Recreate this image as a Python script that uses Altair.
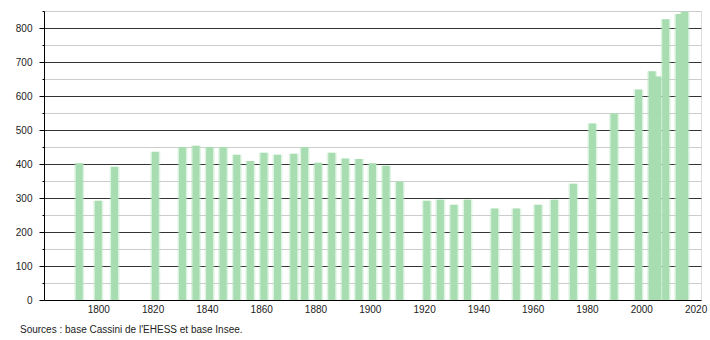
import altair as alt
import pandas as pd

years = [1793, 1800, 1806, 1821, 1831, 1836, 1841, 1846, 1851, 1856, 1861, 1866,
         1872, 1876, 1881, 1886, 1891, 1896, 1901, 1906, 1911, 1921, 1926, 1931,
         1936, 1946, 1954, 1962, 1968, 1975, 1982, 1990, 1999, 2004, 2006, 2009,
         2014, 2016]
population = [402, 292, 392, 436, 450, 454, 450, 450, 427, 409, 433, 427,
              430, 450, 404, 433, 416, 415, 402, 395, 349, 292, 295, 280,
              295, 269, 269, 280, 295, 342, 519, 549, 619, 673, 657, 826,
              841, 848]
x_ticks = [1800, 1820, 1840, 1860, 1880, 1900, 1920, 1940, 1960, 1980, 2000, 2020]
y_ticks = [0, 50, 100, 150, 200, 250, 300, 350, 400, 450, 500, 550, 600, 650,
           700, 750, 800, 850]
source_text = ["Sources : base Cassini de l'EHESS et base Insee."]

df = pd.DataFrame({"year": years, "pop": population})
src = pd.DataFrame({"t": source_text})

FONT = "Liberation Sans"

x_enc = alt.X("year:Q",
              scale=alt.Scale(domain=[1780, 2022], nice=False, zero=False, padding=0),
              axis=alt.Axis(values=x_ticks, format="d", title=None, ticks=False,
                            grid=False, domainColor="#000000", domainWidth=1,
                            labelFont=FONT, labelFontSize=10, labelColor="#222222",
                            labelPadding=4, labelOverlap=False))
y_enc = alt.Y("pop:Q",
              scale=alt.Scale(domain=[0, 850], nice=False, padding=0),
              axis=alt.Axis(values=y_ticks, title=None, labelOverlap=False,
                            labelExpr="datum.value % 100 === 0 ? datum.label : ''",
                            gridColor={"condition": {"test": "datum.value % 100 === 0 && datum.value > 0", "value": "#333333"}, "value": "#cccccc"},
                            tickSize={"condition": {"test": "datum.value % 100 === 0", "value": 5}, "value": 2},
                            tickColor="#000000", domainColor="#000000",
                            labelFont=FONT, labelFontSize=10, labelColor="#222222",
                            labelPadding=7))

base = alt.Chart(df).encode(x=x_enc, y=y_enc)
halo = base.mark_bar(width=10, color="#b8e6c0", opacity=0.45)
bars = base.mark_bar(width=7, color="#a8ddb1")

note = alt.Chart(src).mark_text(align="left", baseline="middle", font=FONT,
                                fontSize=10, color="#222222").encode(
    x=alt.value(-24), y=alt.value(319), text="t:N")

chart = alt.layer(halo, bars, note).properties(
    width=657, height=289,
    autosize=alt.AutoSizeParams(type="none"),
    padding={"left": 44, "top": 11, "right": 9, "bottom": 40},
).configure_view(stroke=None).configure(background="#ffffff")

chart.save("out.html", embed_options={"renderer": "svg", "actions": False})
